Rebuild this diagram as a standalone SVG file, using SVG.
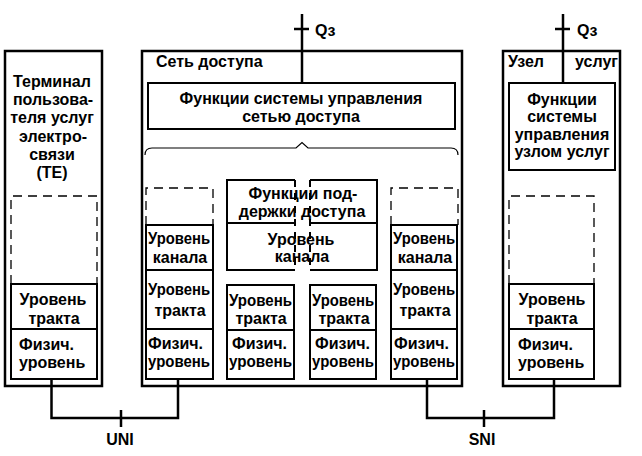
<svg xmlns="http://www.w3.org/2000/svg" width="642" height="456" viewBox="0 0 642 456">
<style>
  text { font-family: "Liberation Sans", Arial, sans-serif; font-size: 16px; font-weight: bold; fill: #000; }
  .c { text-anchor: middle; }
  .outer { fill: none; stroke: #000; stroke-width: 2.5; }
  .box { fill: #fff; stroke: #000; stroke-width: 2; }
  .dash { fill: none; stroke: #000; stroke-width: 1.3; stroke-dasharray: 9 6; }
  .idash { fill: none; stroke: #000; stroke-width: 2; stroke-dasharray: 7 6; }
  .line { fill: none; stroke: #000; stroke-width: 2.5; }
  .thin { fill: none; stroke: #000; stroke-width: 1.2; }
</style>
<rect width="642" height="456" fill="#fff"/>

<g id="connectors">
  <path class="line" d="M302,14 V83"/>
  <path class="line" d="M294,29 H309"/>
  <path class="line" d="M563,14 V83"/>
  <path class="line" d="M555,29 H570"/>
  <path class="line" d="M51.5,379 V418 H178 V379"/>
  <path class="line" d="M121,410 V427"/>
  <path class="line" d="M427,379 V418 H554 V379"/>
  <path class="line" d="M484,410 V427"/>
  <text class="c" x="120" y="445">UNI</text>
  <text class="c" x="482" y="445">SNI</text>
  <text x="315" y="36">Qз</text>
  <text x="577" y="36">Qз</text>
</g>

<g id="te">
  <rect class="outer" x="5" y="51" width="97" height="335"/>
  <text class="c" x="52" y="87">Терминал</text>
  <text class="c" x="53" y="105">пользова-</text>
  <text class="c" x="52" y="123">теля услуг</text>
  <text class="c" x="53" y="142">электро-</text>
  <text class="c" x="52" y="160">связи</text>
  <text class="c" x="52" y="178">(ТЕ)</text>
  <path class="dash" d="M11,284 V196 H97 V284"/>
  <rect class="box" x="11" y="284" width="86" height="45"/>
  <text class="c" x="53" y="305">Уровень</text>
  <text class="c" x="54" y="324">тракта</text>
  <rect class="box" x="11" y="329" width="86" height="50"/>
  <text x="19" y="350">Физич.</text>
  <text x="19" y="368">уровень</text>
</g>

<g id="access-network">
  <rect class="outer" x="142" y="51" width="320" height="335"/>
  <text x="156" y="67">Сеть доступа</text>
  <g id="an-management">
    <rect class="box" x="148" y="83" width="307" height="46"/>
    <text class="c" x="301" y="104">Функции системы управления</text>
    <text class="c" x="301" y="122">сетью доступа</text>
  </g>
  <path class="thin" d="M145,155 Q145,148 152,148 H296 L302,142.5 L308,148 H451 Q458,148 458,155"/>
  <g id="an-left">
    <path class="dash" d="M146,225 V188 H213 V225"/>
    <rect class="box" x="146" y="225" width="67" height="45"/>
    <text x="148" y="244" textLength="62" lengthAdjust="spacingAndGlyphs">Уровень</text>
    <text class="c" x="180" y="263">канала</text>
    <rect class="box" x="146" y="270" width="67" height="59"/>
    <text x="148" y="295" textLength="62" lengthAdjust="spacingAndGlyphs">Уровень</text>
    <text class="c" x="180" y="316">тракта</text>
    <rect class="box" x="146" y="329" width="67" height="50"/>
    <text x="148" y="349">Физич.</text>
    <text x="148" y="367" textLength="62" lengthAdjust="spacingAndGlyphs">уровень</text>
  </g>
  <g id="an-access-support">
    <path class="box" d="M295,180 H227 V270 H295"/>
    <path class="box" d="M310,180 H377 V270 H310"/>
    <path class="box" d="M227,223 H295 M310,223 H377"/>
    <path class="idash" d="M295,180 V270 M310,180 V270"/>
    <text class="c" x="303" y="199">Функции под-</text>
    <text class="c" x="302" y="217">держки доступа</text>
    <text class="c" x="301" y="245">Уровень</text>
    <text class="c" x="302" y="262">канала</text>
  </g>
  <g id="an-mid1">
    <rect class="box" x="227" y="285" width="67" height="45"/>
    <text x="229" y="306" textLength="63" lengthAdjust="spacingAndGlyphs">Уровень</text>
    <text class="c" x="261" y="324">тракта</text>
    <rect class="box" x="227" y="330" width="67" height="49"/>
    <text x="232" y="349">Физич.</text>
    <text x="229" y="367" textLength="63" lengthAdjust="spacingAndGlyphs">уровень</text>
  </g>
  <g id="an-mid2">
    <rect class="box" x="310" y="285" width="66" height="45"/>
    <text x="312" y="306" textLength="62" lengthAdjust="spacingAndGlyphs">Уровень</text>
    <text class="c" x="344" y="324">тракта</text>
    <rect class="box" x="310" y="330" width="66" height="49"/>
    <text x="315" y="349">Физич.</text>
    <text x="312" y="367" textLength="62" lengthAdjust="spacingAndGlyphs">уровень</text>
  </g>
  <g id="an-right">
    <path class="dash" d="M391,225 V188 H458 V225"/>
    <rect class="box" x="391" y="225" width="66" height="45"/>
    <text x="393" y="244" textLength="62" lengthAdjust="spacingAndGlyphs">Уровень</text>
    <text class="c" x="425" y="263">канала</text>
    <rect class="box" x="391" y="270" width="66" height="59"/>
    <text x="393" y="295" textLength="62" lengthAdjust="spacingAndGlyphs">Уровень</text>
    <text class="c" x="425" y="316">тракта</text>
    <rect class="box" x="391" y="329" width="66" height="50"/>
    <text x="394" y="349">Физич.</text>
    <text x="393" y="367" textLength="62" lengthAdjust="spacingAndGlyphs">уровень</text>
  </g>
</g>

<g id="service-node">
  <rect class="outer" x="503" y="51" width="117" height="335"/>
  <text x="508" y="67">Узел</text>
  <text x="618" y="67" text-anchor="end">услуг</text>
  <g id="sn-management">
    <rect class="box" x="509" y="83" width="106" height="87"/>
    <text class="c" x="562" y="105">Функции</text>
    <text class="c" x="562" y="122">системы</text>
    <text class="c" x="562" y="140">управления</text>
    <text class="c" x="562" y="157">узлом услуг</text>
  </g>
  <path class="dash" d="M509,284 V196 H594 V284"/>
  <rect class="box" x="509" y="284" width="85" height="45"/>
  <text class="c" x="552" y="305">Уровень</text>
  <text class="c" x="552" y="324">тракта</text>
  <rect class="box" x="509" y="329" width="85" height="50"/>
  <text x="518" y="350">Физич.</text>
  <text x="518" y="368">уровень</text>
</g>
</svg>
